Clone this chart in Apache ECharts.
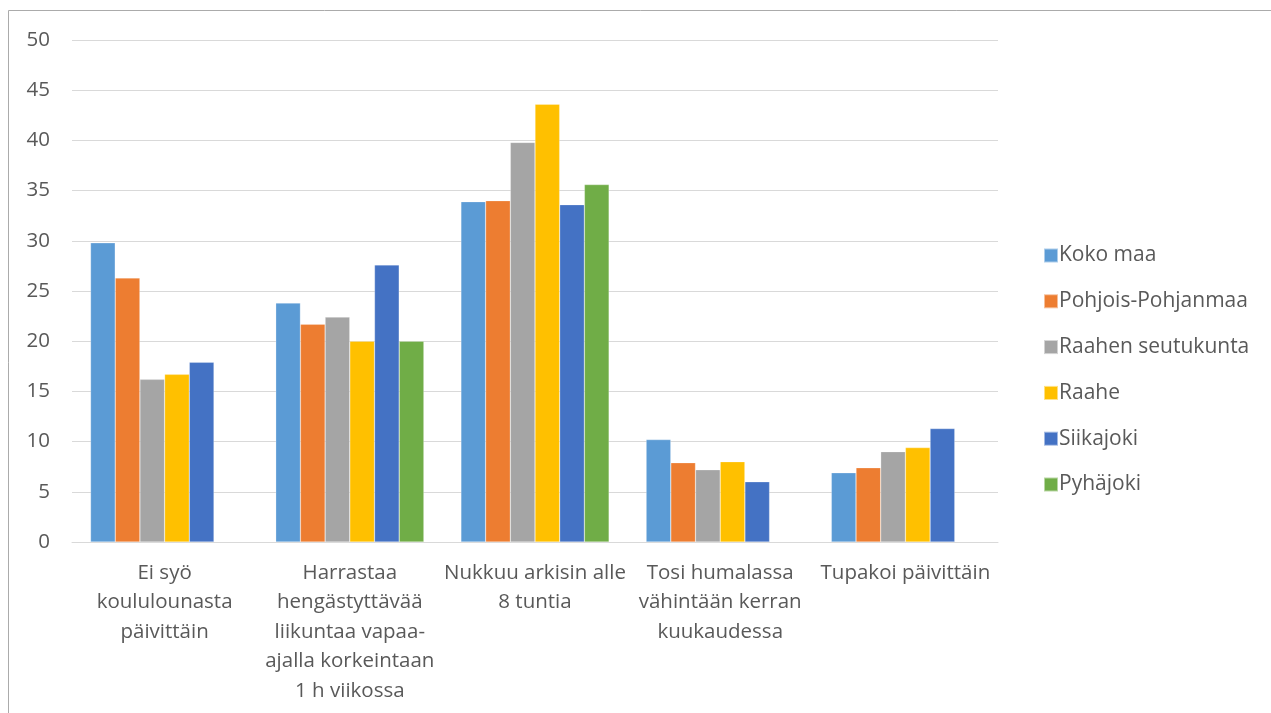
<!DOCTYPE html>
<html>
<head>
<meta charset="utf-8">
<script src="https://cdn.jsdelivr.net/npm/echarts@6/dist/echarts.min.js"></script>
<style>
html,body{margin:0;padding:0;background:#fff;}
#chart{width:1271px;height:713px;}
</style>
</head>
<body>
<div id="chart"></div>
<script>
const categories = [
  "Ei syö\nkoululounasta\npäivittäin",
  "Harrastaa\nhengästyttävää\nliikuntaa vapaa-\najalla korkeintaan\n1 h viikossa",
  "Nukkuu arkisin alle\n8 tuntia",
  "Tosi humalassa\nvähintään kerran\nkuukaudessa",
  "Tupakoi päivittäin"
];
const seriesNames = ["Koko maa", "Pohjois-Pohjanmaa", "Raahen seutukunta", "Raahe", "Siikajoki", "Pyhäjoki"];
const kokoMaa = [29.8, 23.8, 33.9, 10.2, 6.9];
const pohjoisPohjanmaa = [26.3, 21.7, 34.0, 7.9, 7.4];
const raahenSeutukunta = [16.2, 22.4, 39.8, 7.2, 9.0];
const raahe = [16.7, 20.0, 43.6, 8.0, 9.4];
const siikajoki = [17.9, 27.6, 33.6, 6.0, 11.3];
const pyhajoki = [null, 20.0, 35.6, null, null];
const colors = ["#5B9BD5", "#ED7D31", "#A5A5A5", "#FFC000", "#4472C4", "#70AD47"];

const values = [kokoMaa, pohjoisPohjanmaa, raahenSeutukunta, raahe, siikajoki, pyhajoki];
const font = "'Open Sans', 'Noto Sans', sans-serif";

const chart = echarts.init(document.getElementById('chart'));
chart.setOption({
  animation: false,
  color: colors,
  textStyle: { fontFamily: font },
  graphic: [{
    type: 'rect',
    shape: { x: 8.5, y: 10.5, width: 1400, height: 900 },
    style: { fill: 'none', stroke: '#ababab', lineWidth: 1 },
    silent: true
  }],
  grid: { left: 72, right: 273, top: 40, bottom: 171, containLabel: false },
  legend: {
    orient: 'vertical',
    left: 1038,
    top: 240,
    itemWidth: 14,
    itemHeight: 14,
    itemGap: 24.8,
    icon: 'rect',
    textStyle: { fontSize: 21, color: '#595959', fontFamily: font, lineHeight: 20, padding: [0, 0, 0, -4] },
    data: seriesNames
  },
  xAxis: {
    type: 'category',
    data: categories,
    axisLine: { lineStyle: { color: '#d9d9d9', width: 1 } },
    axisTick: { show: false },
    axisLabel: {
      interval: 0,
      fontSize: 20.5,
      color: '#595959',
      fontFamily: font,
      lineHeight: 29.5,
      margin: 16
    }
  },
  yAxis: {
    type: 'value',
    min: 0,
    max: 50,
    interval: 5,
    axisLine: { show: false },
    axisTick: { show: false },
    splitLine: { lineStyle: { color: '#d9d9d9', width: 1 } },
    axisLabel: { fontSize: 20.5, color: '#595959', fontFamily: font, margin: 22 }
  },
  series: seriesNames.map((name, i) => ({
    name: name,
    type: 'bar',
    data: values[i],
    barGap: '0%',
    barCategoryGap: '20%',
    itemStyle: { color: colors[i], borderColor: 'rgba(255,255,255,0.5)', borderWidth: 0.5 }
  }))
});
</script>
</body>
</html>
